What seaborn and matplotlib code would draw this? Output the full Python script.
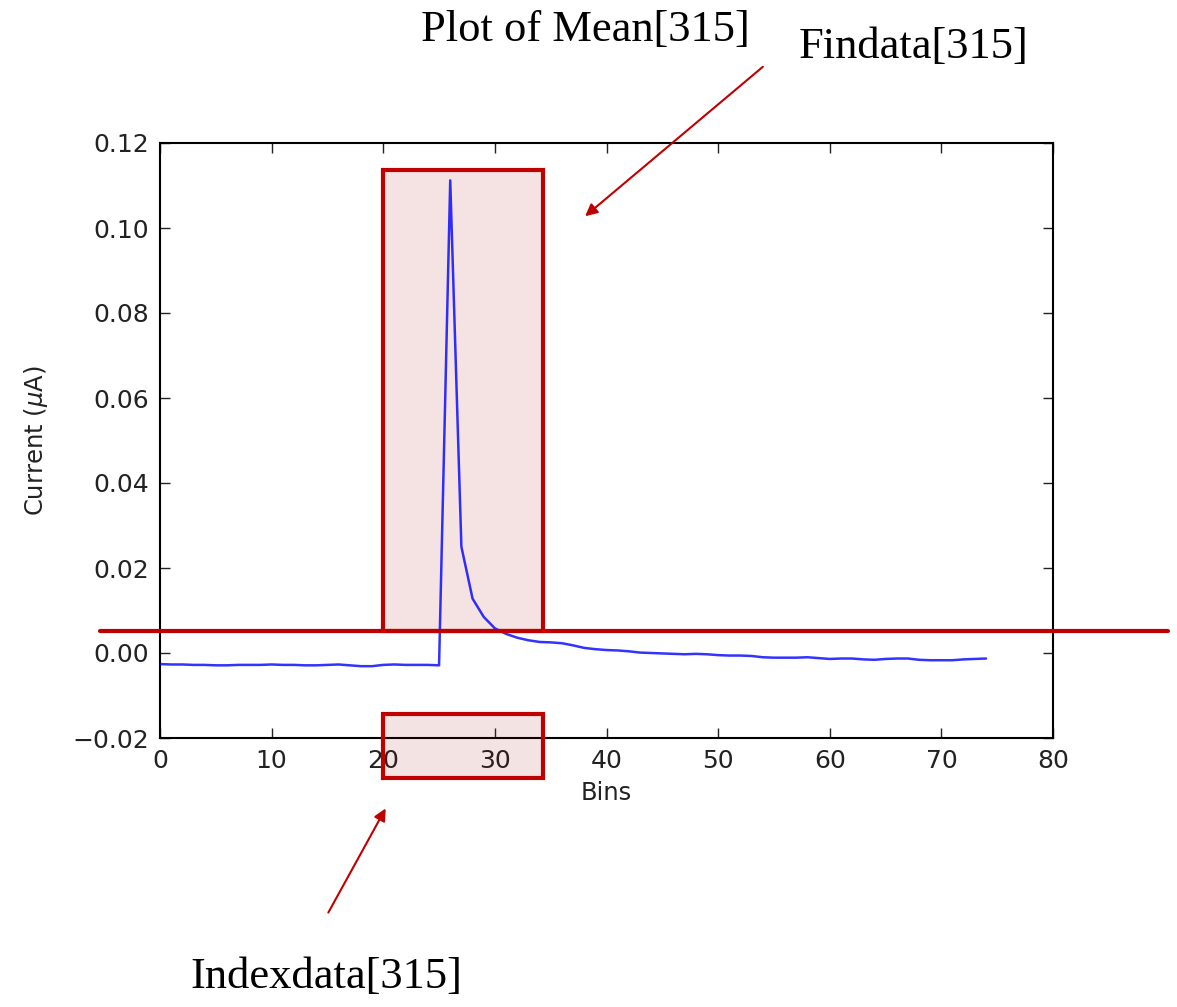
import numpy as np
import pandas as pd
import matplotlib
matplotlib.use("Agg")
import matplotlib.pyplot as plt
import seaborn as sns
from matplotlib.patches import Rectangle, FancyArrowPatch
from matplotlib.lines import Line2D

# ---- data ----
bins = list(range(75))
current = [
    -0.0026, -0.0027, -0.0027, -0.0028, -0.0028, -0.0029, -0.0029, -0.0028, -0.0028, -0.0028,
    -0.0027, -0.0028, -0.0028, -0.0029, -0.0029, -0.0028, -0.0027, -0.0029, -0.0031, -0.0031,
    -0.0028, -0.0027, -0.0028, -0.0028, -0.0028, -0.0029, 0.1112, 0.0250, 0.0128, 0.0085,
    0.0058, 0.0045, 0.0036, 0.0030, 0.0026, 0.0025, 0.0023, 0.0018, 0.0012, 0.0009,
    0.0007, 0.0006, 0.0004, 0.0001, 0.0000, -0.0001, -0.0002, -0.0003, -0.0002, -0.0003,
    -0.0005, -0.0006, -0.0006, -0.0007, -0.0010, -0.0011, -0.0011, -0.0011, -0.0010, -0.0012,
    -0.0014, -0.0013, -0.0013, -0.0015, -0.0016, -0.0014, -0.0013, -0.0013, -0.0016, -0.0017,
    -0.0017, -0.0017, -0.0015, -0.0014, -0.0013,
]
x_ticks = [0, 10, 20, 30, 40, 50, 60, 70, 80]
y_ticks = [-0.02, 0.00, 0.02, 0.04, 0.06, 0.08, 0.10, 0.12]
title_text = "Plot of Mean[315]"
findata_text = "Findata[315]"
indexdata_text = "Indexdata[315]"
threshold = 0.0052
window = (20, 34.3)
window_top = 0.1136
index_box = (-0.0294, -0.0144)

df = pd.DataFrame({"Bins": bins, "Current": current})

sns.set_style("ticks")
plt.rcParams['font.family'] = ['DejaVu Sans']

W, H = 1177, 1007
fig = plt.figure(figsize=(W / 100, H / 100), dpi=100)
ax = fig.add_axes([160 / W, 1 - 738 / H, (1053 - 160) / W, (738 - 143) / H])

sns.lineplot(data=df, x="Bins", y="Current", ax=ax, color="#0000ff", lw=1.8, alpha=0.8)

ax.set_xlim(0, 80)
ax.set_ylim(-0.02, 0.12)
ax.set_xticks(x_ticks)
ax.set_yticks(y_ticks)
ax.set_xticklabels([str(v) for v in x_ticks])
ax.set_yticklabels(["\u22120.02" if v < 0 else f"{v:.2f}" for v in y_ticks])
ax.tick_params(direction="in", length=7, width=1, top=True, right=True,
               labelsize=18, colors="#222222", pad=8)
for s in ax.spines.values():
    s.set_color("black")
    s.set_linewidth(1.5)
ax.set_xlabel("Bins", fontsize=17.5, color="#222222", labelpad=6)
ax.set_ylabel(r"Current ($\mu$A)", fontsize=17.5, color="#222222", labelpad=16)

red = "#c00000"
pink = "#f5e3e3"
pink_alpha = (0.6, 0.0, 0.0, 0.11)

# upper window rectangle (data coords)
ax.add_patch(Rectangle((window[0], threshold), window[1] - window[0], window_top - threshold,
                       facecolor=pink, edgecolor=red, lw=3, zorder=1))
ax.lines[0].set_zorder(3)

# lower window rectangle (extends below the axis), translucent
ax.add_patch(Rectangle((window[0], index_box[0]), window[1] - window[0],
                       index_box[1] - index_box[0],
                       facecolor=pink_alpha, edgecolor=red, lw=3, zorder=4, clip_on=False))

# threshold line spanning beyond axes (figure coords)
fig.add_artist(Line2D([100 / W, 1168 / W], [1 - 631 / H, 1 - 631 / H],
                      color=red, lw=3, zorder=5))

# texts
fig.text(585 / W, 1 - 30 / H, title_text, fontsize=32, family="Liberation Serif",
         ha="center", va="center", color="black")
fig.text(914 / W, 1 - 47 / H, findata_text, fontsize=32, family="Liberation Serif",
         ha="center", va="center", color="black")
fig.text(326 / W, 1 - 977 / H, indexdata_text, fontsize=32, family="Liberation Serif",
         ha="center", va="center", color="black")

# arrows
fig.add_artist(FancyArrowPatch((765 / W, 1 - 65 / H), (583 / W, 1 - 218 / H),
                               transform=fig.transFigure, arrowstyle="-|>",
                               mutation_scale=18, color=red, lw=1.5))
fig.add_artist(FancyArrowPatch((327 / W, 1 - 915 / H), (387 / W, 1 - 806 / H),
                               transform=fig.transFigure, arrowstyle="-|>",
                               mutation_scale=18, color=red, lw=1.5))

fig.savefig("out.png", dpi=100)
